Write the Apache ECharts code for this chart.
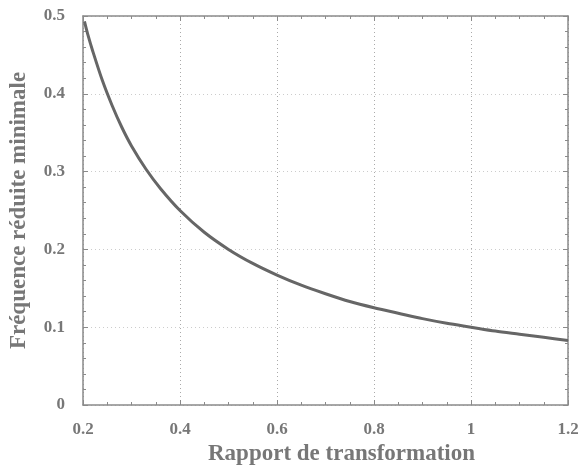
<!DOCTYPE html>
<html><head><meta charset="utf-8">
<script src="https://cdn.jsdelivr.net/npm/echarts@6/dist/echarts.min.js"></script>
<style>html,body{margin:0;padding:0;background:#fff}#c{width:582px;height:467px}</style>
</head><body><div id="c"></div>
<script>
const xValues = [0.203,0.21,0.22,0.24,0.26,0.28,0.30,0.33,0.36,0.40,0.45,0.50,0.55,0.60,0.65,0.70,0.75,0.80,0.85,0.90,0.95,1.00,1.05,1.10,1.15,1.20];
const yValues = [0.493,0.476,0.455,0.417,0.385,0.357,0.333,0.303,0.278,0.25,0.222,0.2,0.182,0.167,0.154,0.143,0.133,0.125,0.118,0.111,0.105,0.1,0.095,0.091,0.087,0.083];
const xTitle = "Rapport de transformation";
const yTitle = "Fréquence réduite minimale";

const data = xValues.map((x,i)=>[x,yValues[i]]);
const font = "'Liberation Serif','DejaVu Serif',serif";
const txt = '#777';
const axisCol = '#8a8a8a';
const chart = echarts.init(document.getElementById('c'));
function ax(extra){
  return Object.assign({
    axisLine:{show:true,onZero:false,lineStyle:{color:axisCol,width:1.5}},
    axisTick:{show:true,inside:true,length:5,lineStyle:{color:axisCol}},
    minorTick:{show:true,splitNumber:4,length:3,lineStyle:{color:axisCol}},
    splitLine:{show:false}
  },extra);
}
chart.setOption({
  animation:false,
  grid:{left:83,right:14,top:16,bottom:62,containLabel:false,outerBoundsMode:'none'},
  xAxis:[
    ax({type:'value',min:0.2,max:1.2,interval:0.2,position:'bottom',
      name:xTitle,nameLocation:'middle',nameGap:31,
      nameTextStyle:{fontFamily:font,fontWeight:'bold',fontSize:23,color:txt,padding:[0,0,0,32]},
      axisLabel:{fontFamily:font,fontWeight:'bold',fontSize:17,color:txt,margin:16,
        formatter:v=>String(+v.toFixed(1))},
      splitLine:{show:true,lineStyle:{color:'#aaa',type:[1,3],width:1}}
    }),
    ax({type:'value',min:0.2,max:1.2,interval:0.2,position:'top',axisLabel:{show:false}})
  ],
  yAxis:[
    ax({type:'value',min:0,max:0.5,interval:0.1,position:'left',
      minorTick:{show:true,splitNumber:5,length:3,lineStyle:{color:axisCol}},
      name:yTitle,nameLocation:'middle',nameGap:52,
      nameTextStyle:{fontFamily:font,fontWeight:'bold',fontSize:23,color:txt},
      axisLabel:{fontFamily:font,fontWeight:'bold',fontSize:17,color:txt,margin:18,
        formatter:v=>String(+v.toFixed(1))},
      splitLine:{show:true,lineStyle:{color:'#ccc',type:[1,3],width:1}}
    }),
    ax({type:'value',min:0,max:0.5,interval:0.1,position:'right',axisLabel:{show:false},
      minorTick:{show:true,splitNumber:5,length:3,lineStyle:{color:axisCol}}})
  ],
  series:[{type:'line',data:data,smooth:0.3,showSymbol:false,
    lineStyle:{color:'#666',width:3}}]
});
</script></body></html>
